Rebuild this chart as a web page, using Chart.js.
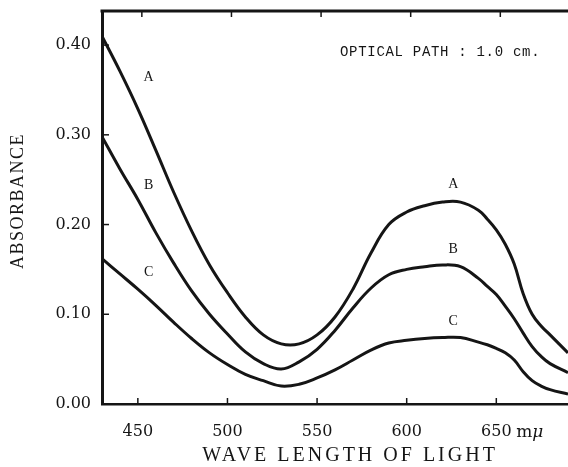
<!DOCTYPE html>
<html><head><meta charset="utf-8">
<script src="https://cdn.jsdelivr.net/npm/chart.js@4/dist/chart.umd.min.js"></script>
<style>html,body{margin:0;padding:0;background:#fff}#wrap{width:568px;height:467px}</style>
</head><body><div id="wrap"><canvas id="c" width="568" height="467"></canvas></div>
<script>
const wavelengths = [430,440,450,460,470,480,490,500,510,520,530,540,550,560,570,580,590,600,610,620,630,640,645,650,655,660,665,670,675,680,690];
const curveA = [0.410,0.371,0.329,0.283,0.236,0.193,0.155,0.124,0.097,0.077,0.067,0.067,0.077,0.097,0.128,0.168,0.200,0.214,0.221,0.225,0.225,0.216,0.206,0.194,0.178,0.156,0.123,0.100,0.087,0.077,0.057];
const curveB = [0.298,0.262,0.228,0.191,0.157,0.126,0.100,0.078,0.058,0.045,0.039,0.047,0.061,0.082,0.107,0.129,0.144,0.150,0.153,0.155,0.153,0.140,0.131,0.122,0.109,0.095,0.079,0.064,0.053,0.045,0.035];
const curveC = [0.162,0.145,0.128,0.110,0.091,0.073,0.057,0.044,0.033,0.026,0.020,0.022,0.029,0.038,0.049,0.060,0.068,0.071,0.073,0.074,0.074,0.069,0.066,0.062,0.057,0.049,0.036,0.026,0.020,0.016,0.011];
const xTicks = [450,500,550,600,650];
const yTicks = [0,0.1,0.2,0.3,0.4];
const yTickLabels = ['0.00','0.10','0.20','0.30','0.40'];
const curveNames = ['A','B','C'];
const labelLeft = [[456,0.364],[456,0.244],[456,0.147]];
const labelRight = [[626,0.245],[626,0.172],[626,0.092]];

const INK = '#151515';
const SERIF = '"Liberation Serif","DejaVu Serif",serif';
const SERIF2 = '"DejaVu Serif","Liberation Serif",serif';

const mk = (arr) => wavelengths.map((w,i)=>({x:w,y:arr[i]}));

const decor = {
  id:'decor',
  afterDraw(chart){
    const ctx = chart.ctx, xs = chart.scales.x, ys = chart.scales.y, a = chart.chartArea;
    ctx.save();
    ctx.strokeStyle = INK;
    // top frame
    ctx.lineWidth = 3;
    ctx.beginPath(); ctx.moveTo(a.left - 1.5, a.top); ctx.lineTo(a.right, a.top); ctx.stroke();
    ctx.lineWidth = 1.5;
    xTicks.forEach(v=>{
      const px = xs.getPixelForValue(v);
      ctx.beginPath(); ctx.moveTo(px,a.bottom); ctx.lineTo(px,a.bottom-6); ctx.stroke();
      ctx.beginPath(); ctx.moveTo(px+4,a.top); ctx.lineTo(px+4,a.top+6); ctx.stroke();
    });
    yTicks.forEach(v=>{
      const py = ys.getPixelForValue(v);
      ctx.beginPath(); ctx.moveTo(a.left,py); ctx.lineTo(a.left+7,py); ctx.stroke();
    });
    // curve labels
    ctx.fillStyle = INK;
    ctx.font = '14px ' + SERIF;
    ctx.textAlign = 'center'; ctx.textBaseline = 'middle';
    curveNames.forEach((n,i)=>{
      ctx.fillText(n, xs.getPixelForValue(labelLeft[i][0]), ys.getPixelForValue(labelLeft[i][1]));
      ctx.fillText(n, xs.getPixelForValue(labelRight[i][0]), ys.getPixelForValue(labelRight[i][1]));
    });
    // optical path note
    ctx.font = '14px "Liberation Mono","DejaVu Sans Mono",monospace';
    ctx.textAlign = 'left';
    ctx.letterSpacing = '0.7px';
    ctx.fillText('OPTICAL PATH : 1.0 cm.', 340, 52);
    ctx.letterSpacing = '0px';
    // unit after 650
    ctx.font = '17px ' + SERIF2;
    ctx.textBaseline = 'middle';
    const p650 = xs.getPixelForValue(650);
    ctx.fillText('m', p650 + 20, 433);
    ctx.font = 'italic 17px ' + SERIF2;
    ctx.fillText('\u03bc', p650 + 36, 433);
    // axis titles
    ctx.font = '20px ' + SERIF;
    ctx.textAlign = 'center';
    ctx.letterSpacing = '3px';
    ctx.fillText('WAVE LENGTH OF LIGHT', 350, 456);
    ctx.save();
    ctx.translate(18, 201);
    ctx.rotate(-Math.PI/2);
    ctx.font = '18px ' + SERIF;
    ctx.letterSpacing = '1.5px';
    ctx.fillText('ABSORBANCE', 0, 0);
    ctx.restore();
    ctx.restore();
  }
};

const ds = (name, arr) => ({
  label: name, data: mk(arr), borderColor: INK, borderWidth: 3,
  pointRadius: 0, fill: false, tension: 0.4
});

new Chart(document.getElementById('c'), {
  type: 'line',
  data: { datasets: [ds('A',curveA), ds('B',curveB), ds('C',curveC)] },
  options: {
    responsive: false, animation: false, devicePixelRatio: 1,
    layout: { padding: { left: 0, right: 0, top: 11, bottom: 0 } },
    plugins: { legend: { display: false }, tooltip: { enabled: false } },
    scales: {
      x: {
        type: 'linear', min: 430, max: 690,
        afterBuildTicks: s => { s.ticks = xTicks.map(v=>({value:v})); },
        afterFit: s => { s.height = 63; s.paddingLeft = 0; s.paddingRight = 0; },
        grid: { display: false, drawTicks: false },
        border: { display: true, color: INK, width: 2.5 },
        ticks: { color: INK, font: { family: SERIF2, size: 16 }, padding: 18, maxRotation: 0,
                 callback: v => String(v) }
      },
      y: {
        min: 0, max: 0.438,
        afterBuildTicks: s => { s.ticks = yTicks.map(v=>({value:v})); },
        afterFit: s => { s.width = 102; s.paddingTop = 0; s.paddingBottom = 0; },
        grid: { display: false, drawTicks: false },
        border: { display: true, color: INK, width: 3 },
        ticks: { color: INK, font: { family: SERIF2, size: 16 }, padding: 11,
                 callback: (v) => yTickLabels[yTicks.findIndex(t=>Math.abs(t-v)<1e-9)] }
      }
    }
  },
  plugins: [decor]
});
</script></body></html>
